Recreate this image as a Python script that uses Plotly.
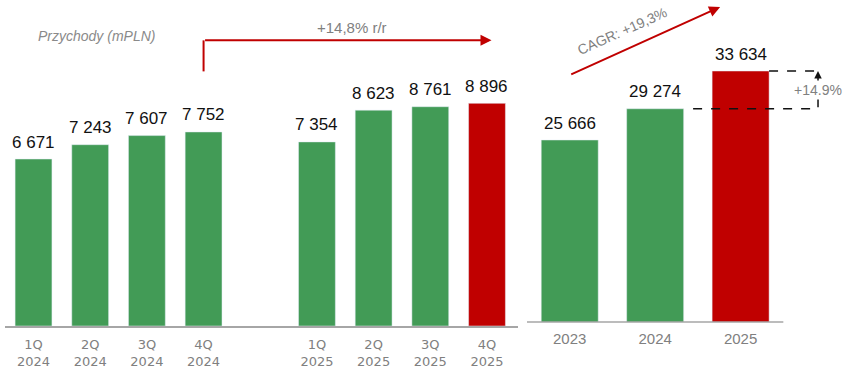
import plotly.graph_objects as go

# ---- data ----
quarter_labels = ["1Q<br>2024", "2Q<br>2024", "3Q<br>2024", "4Q<br>2024",
                  "1Q<br>2025", "2Q<br>2025", "3Q<br>2025", "4Q<br>2025"]
quarter_values = [6671, 7243, 7607, 7752, 7354, 8623, 8761, 8896]
quarter_pos = [0, 1, 2, 3, 5, 6, 7, 8]
year_labels = ["2023", "2024", "2025"]
year_values = [25666, 29274, 33634]
year_pos = [0, 1, 2]

title_text = "Przychody (mPLN)"
yoy_text = "+14,8% r/r"
cagr_text = "CAGR: +19,3%"
diff_text = "+14.9%"

GREEN = "#429b56"
RED = "#c00000"
GRAY = "#808080"

def fmt(v):
    return f"{v:,}".replace(",", " ")

q_colors = [GREEN] * (len(quarter_values) - 1) + [RED]
y_colors = [GREEN] * (len(year_values) - 1) + [RED]

fig = go.Figure()
fig.add_trace(go.Bar(x=quarter_pos, y=quarter_values, marker_color=q_colors,
                     width=0.65, xaxis="x", yaxis="y", hoverinfo="skip"))
fig.add_trace(go.Bar(x=year_pos, y=year_values, marker_color=y_colors,
                     width=0.667, xaxis="x2", yaxis="y2", hoverinfo="skip"))

W, H = 844, 371
ann = []
val_font = dict(family="Liberation Sans, Arial", size=17, color="#111111")
for p, v in zip(quarter_pos, quarter_values):
    ann.append(dict(x=p, y=v, xref="x", yref="y", text=fmt(v), showarrow=False,
                    yanchor="middle", yshift=17, font=val_font))
for p, v in zip(year_pos, year_values):
    ann.append(dict(x=p, y=v, xref="x2", yref="y2", text=fmt(v), showarrow=False,
                    yanchor="middle", yshift=17, font=val_font))

# title
ann.append(dict(x=96 / W, y=1 - 36 / H, xref="paper", yref="paper", showarrow=False,
                xanchor="center", yanchor="middle",
                text="<i>" + title_text + "</i>",
                font=dict(family="Liberation Sans, Arial", size=14, color="#8a8a8a")))

# y/y arrow
arrow_y = 11412
ann.append(dict(x=8.08, y=arrow_y, ax=3, ay=arrow_y, xref="x", yref="y",
                axref="x", ayref="y", showarrow=True, text="", arrowhead=2,
                arrowsize=1.1, arrowwidth=2, arrowcolor=RED))
ann.append(dict(x=5.61, y=arrow_y, xref="x", yref="y", text=yoy_text, showarrow=False,
                yanchor="bottom", yshift=2,
                font=dict(family="Liberation Sans, Arial", size=15, color=GRAY)))

# CAGR arrow
ann.append(dict(x=1.76, y=41024, ax=0, ay=33172, xref="x2", yref="y2",
                axref="x2", ayref="y2", showarrow=True, text="", arrowhead=2,
                arrowsize=1.1, arrowwidth=2, arrowcolor=RED))
ann.append(dict(x=0.614, y=38300, xref="x2", yref="y2", text=cagr_text, showarrow=False,
                textangle=-24, xanchor="center", yanchor="middle",
                font=dict(family="Liberation Sans, Arial", size=14, color=GRAY)))

# difference arrow
dx = 2.906
ann.append(dict(x=dx, y=year_values[2], ax=dx, ay=year_values[1], xref="x2", yref="y2",
                axref="x2", ayref="y2", showarrow=True, text="", arrowhead=2,
                arrowsize=1, arrowwidth=1.5, arrowcolor="#111111"))
ann.append(dict(x=dx, y=(year_values[1] + year_values[2]) / 2, xref="x2", yref="y2",
                text=diff_text, showarrow=False, bgcolor="white",
                font=dict(family="Liberation Sans, Arial", size=14, color=GRAY)))

shapes = [
    dict(type="line", xref="x", yref="y", x0=3, x1=3, y0=10172, y1=arrow_y,
         line=dict(color=RED, width=2)),
    dict(type="line", xref="x2", yref="y2", x0=2.333, x1=dx, y0=year_values[2], y1=year_values[2],
         line=dict(color="#111111", width=1.5, dash="dash")),
    dict(type="line", xref="x2", yref="y2", x0=1.444, x1=dx, y0=year_values[1], y1=year_values[1],
         line=dict(color="#111111", width=1.5, dash="dash")),
    dict(type="line", xref="x2", yref="y2 domain", x0=-0.5, x1=2.5, y0=0, y1=0,
         line=dict(color="#a6a6a6", width=1.5)),
]

fig.update_layout(
    width=W, height=H, margin=dict(l=0, r=0, t=0, b=0),
    paper_bgcolor="white", plot_bgcolor="white", showlegend=False,
    annotations=ann, shapes=shapes,
    xaxis=dict(domain=[5 / W, 518 / W], range=[-0.503, 8.547], tickvals=quarter_pos,
               ticktext=quarter_labels, showline=True, linecolor="#a6a6a6", linewidth=1.5,
               ticks="", showgrid=False, zeroline=False, fixedrange=True,
               ticklabelstandoff=6,
               tickfont=dict(family="DejaVu Sans", size=13, color=GRAY)),
    yaxis=dict(domain=[(H - 326) / H, 1], range=[0, 13024], visible=False),
    xaxis2=dict(domain=[527 / W, 1], range=[-0.5, 3.21], tickvals=year_pos,
                ticktext=year_labels, showline=False, ticks="", showgrid=False,
                zeroline=False, anchor="y2", ticklabelstandoff=6,
                tickfont=dict(family="Liberation Sans, Arial", size=15, color=GRAY)),
    yaxis2=dict(domain=[(H - 322) / H, 1], range=[4650, 41832], visible=False, anchor="x2"),
)

fig.write_html("out.html", config={"displayModeBar": False},
               post_script="document.body.style.margin='0';document.body.style.overflow='hidden';")
